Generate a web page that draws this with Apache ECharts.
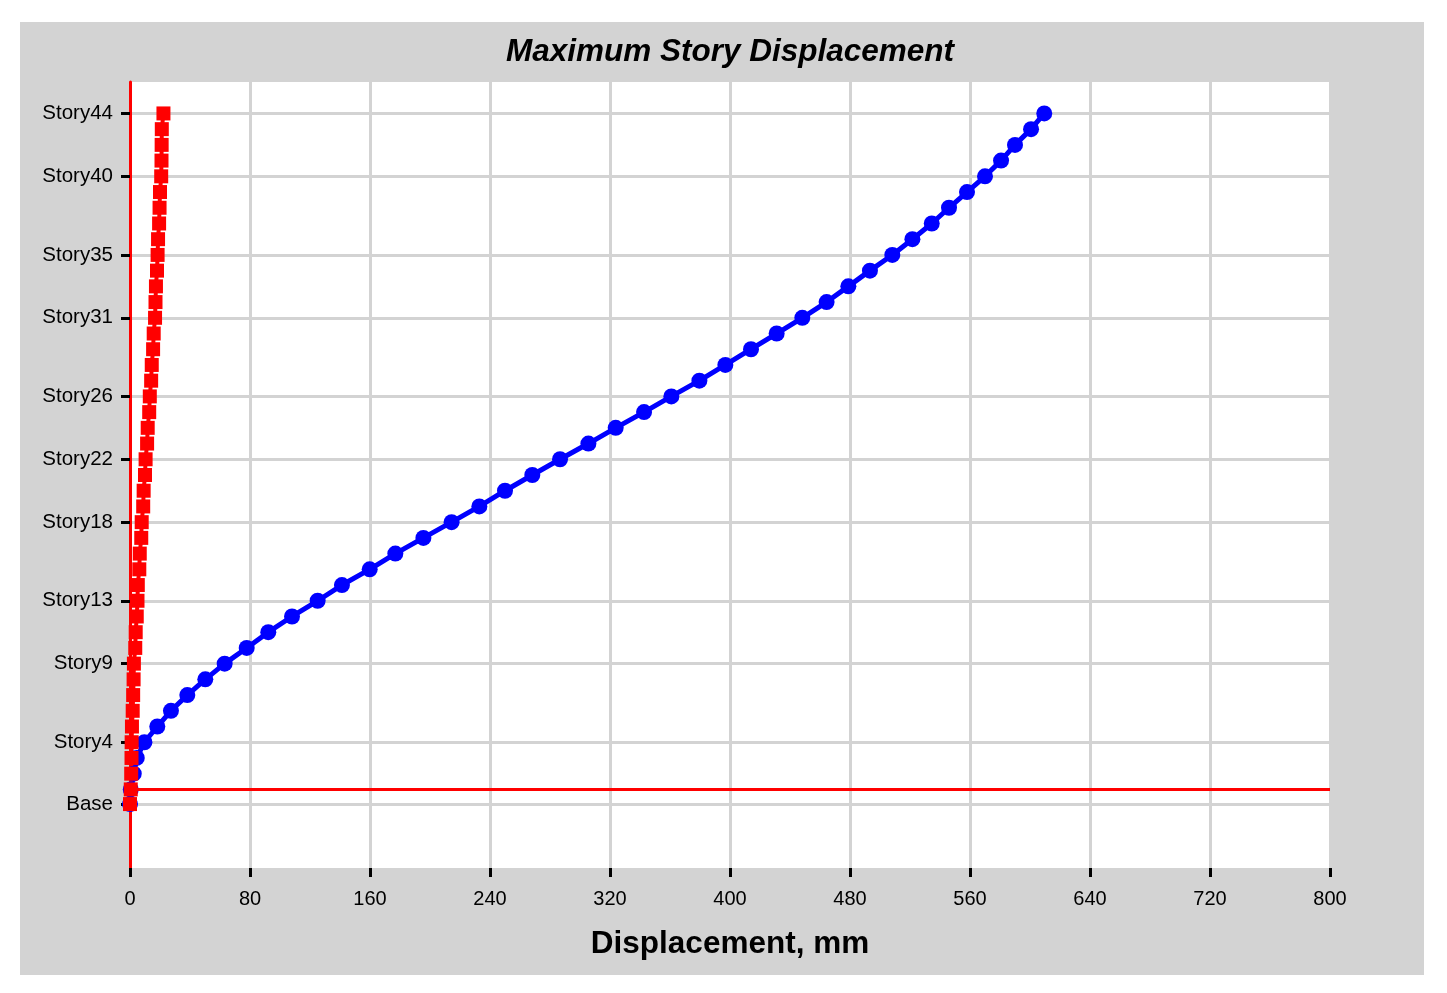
<!DOCTYPE html>
<html>
<head>
<meta charset="utf-8">
<title>Maximum Story Displacement</title>
<script src="https://cdn.jsdelivr.net/npm/echarts@6/dist/echarts.min.js"></script>
<style>
  html, body { margin: 0; padding: 0; background: #fff; }
  #main { position: absolute; left: 20px; top: 22px; width: 1404px; height: 953px; background: #d3d3d3; }
</style>
</head>
<body>
<div id="main"></div>
<script>
// story elevations (m), Base .. Story44
var storyElev = [-2.8, 0, 3, 6, 9, 12, 15, 18, 21, 24, 27, 30, 33, 36, 39, 42, 45, 48, 51, 54, 57,
  60, 63, 66, 69, 72, 75, 78, 81, 84, 87, 90, 93, 96, 99, 102, 105, 108, 111, 114, 117,
  120, 123, 126, 129];

// displacement, mm (blue curve)
var dispBlue = [0, 0.5, 2.5, 4.5, 9.6, 18.2, 27.3, 38.2, 50.2, 63.1, 77.8, 92.2, 108, 125.1, 141.3,
  159.8, 176.9, 195.6, 214.4, 232.9, 250, 268.2, 286.7, 305.6, 323.8, 342.7, 360.9, 379.6,
  396.9, 414, 431.1, 448.2, 464.4, 478.9, 493.3, 508.2, 521.6, 534.5, 546, 558, 570,
  580.7, 590, 600.7, 609.5];

// displacement, mm (red curve)
var dispRed = [0, 0.5, 0.8, 1, 1.1, 1.3, 1.8, 2.1, 2.4, 2.6, 3.5, 3.8, 4.5, 5, 5.2, 6.2, 6.5,
  7.5, 7.8, 8.8, 9.1, 10, 10.4, 11.4, 11.8, 12.8, 13.2, 14.1, 14.5, 15.4, 15.8, 16.7, 17,
  17.3, 18, 18.4, 18.7, 19.4, 19.7, 20, 20.8, 21, 21.1, 21.2, 22.3];

// y axis tick labels
var yTickElev = [-2.8, 9, 24, 36, 51, 63, 75, 90, 102, 117, 129];
var yTickLabels = ['Base', 'Story4', 'Story9', 'Story13', 'Story18', 'Story22', 'Story26',
  'Story31', 'Story35', 'Story40', 'Story44'];

var font = 'Arial, "Liberation Sans", sans-serif';

function pairs(disp) {
  return disp.map(function (d, i) { return [d, storyElev[i]]; });
}

var myChart = echarts.init(document.getElementById('main'));

var option = {
  animation: false,
  backgroundColor: '#d3d3d3',
  title: {
    text: 'Maximum Story Displacement',
    left: 710,
    top: 14,
    padding: 0,
    textAlign: 'center',
    textStyle: { fontFamily: font, fontSize: 31.5, fontWeight: 'bold', fontStyle: 'italic', color: '#000' }
  },
  grid: {
    left: 110, top: 60, width: 1200, height: 786,
    show: true, backgroundColor: '#fff', borderWidth: 0,
    containLabel: false, outerBoundsMode: 'none'
  },
  xAxis: {
    type: 'value',
    min: 0, max: 800, interval: 80,
    name: 'Displacement, mm',
    nameLocation: 'middle',
    nameGap: 60,
    nameTextStyle: { fontFamily: font, fontSize: 31.5, fontWeight: 'bold', color: '#000' },
    axisLine: { show: false, onZero: false },
    axisTick: { show: true, length: 9, lineStyle: { color: '#000', width: 3 } },
    axisLabel: { fontFamily: font, fontSize: 20, color: '#000', margin: 21 },
    splitLine: { show: true, lineStyle: { color: '#d3d3d3', width: 3 } }
  },
  yAxis: {
    type: 'value',
    min: -15, max: 135,
    axisLine: { show: true, onZero: false, lineStyle: { color: '#ff0000', width: 3 } },
    axisTick: { show: true, customValues: yTickElev, length: 9, lineStyle: { color: '#000', width: 3 } },
    axisLabel: {
      customValues: yTickElev,
      fontFamily: font, fontSize: 20.5, color: '#000', margin: 17,
      formatter: function (v) {
        for (var i = 0; i < yTickElev.length; i++) {
          if (Math.abs(yTickElev[i] - v) < 1e-6) return yTickLabels[i];
        }
        return '';
      }
    },
    splitLine: { show: true, lineStyle: { color: '#d3d3d3', width: 3 } }
  },
  series: [
    {
      type: 'line',
      data: pairs(dispBlue),
      symbol: 'circle',
      symbolSize: 16,
      lineStyle: { color: '#0000ff', width: 5 },
      itemStyle: { color: '#0000ff' },
      markLine: {
        silent: true,
        symbol: 'none',
        label: { show: false },
        lineStyle: { color: '#ff0000', width: 3, type: 'solid' },
        data: [{ yAxis: 0 }]
      }
    },
    {
      type: 'line',
      data: pairs(dispRed),
      symbol: 'rect',
      symbolSize: 14,
      lineStyle: { color: '#ff0000', width: 4 },
      itemStyle: { color: '#ff0000' }
    }
  ]
};

myChart.setOption(option);
</script>
</body>
</html>
